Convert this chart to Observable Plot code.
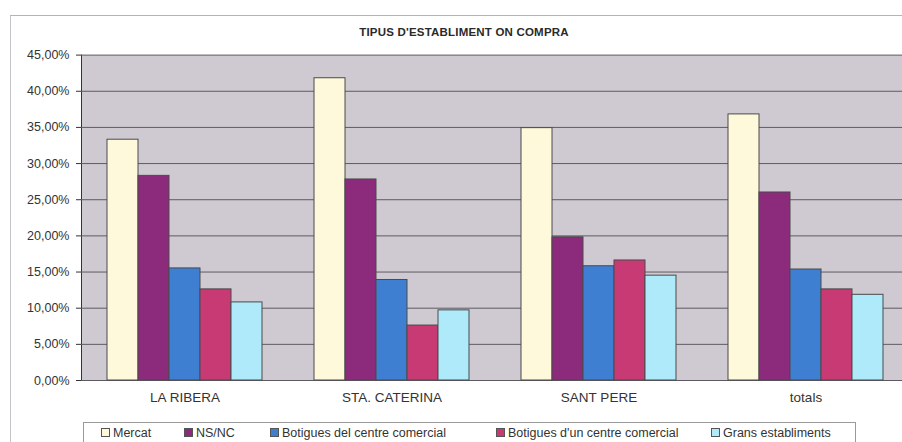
<!DOCTYPE html>
<html>
<head>
<meta charset="utf-8">
<script src="https://cdn.jsdelivr.net/npm/d3@7"></script>
<script src="https://cdn.jsdelivr.net/npm/@observablehq/plot@0.6"></script>
<style>
  html, body { margin: 0; padding: 0; background: #fff; overflow: hidden; }
  #wrap { position: relative; width: 902px; height: 442px; overflow: hidden; font-family: "Liberation Sans", Arial, sans-serif; }
  #border { position: absolute; left: 10px; top: 15px; width: 1000px; height: 600px; border-top: 1px solid #b4b4b8; border-left: 1px solid #c4c4c8; box-sizing: border-box; }
  #plotbg { position: absolute; left: 81px; top: 54.6px; width: 830px; height: 325.4px; background: #cfcad2; }
  #title { position: absolute; left: 0; width: 928px; top: 26px; text-align: center; font-size: 11.5px; font-weight: bold; color: #2a2a2a; letter-spacing: 0.2px; }
  #chart { position: absolute; left: 0; top: 0; }
  #legend { position: absolute; left: 83px; top: 422px; width: 773px; height: 40px; border: 1px solid #9a9a9a; box-sizing: border-box; background: #fff; }
  .item { position: absolute; top: 3px; font-size: 12.5px; color: #333; white-space: nowrap; line-height: 14px; }
  .sw { display: inline-block; width: 7px; height: 7px; border: 1px solid #555; margin-right: 3px; vertical-align: 0px; }
</style>
</head>
<body>
<div id="wrap">
  <div id="border"></div>
  <div id="plotbg"></div>
  <div id="chart"></div>
  <div id="title">TIPUS D'ESTABLIMENT ON COMPRA</div>
  <div id="legend"></div>
</div>
<script>
// ---- data ----
const categories = ["LA RIBERA", "STA. CATERINA", "SANT PERE", "totals"];
const series = ["Mercat", "NS/NC", "Botigues del centre comercial", "Botigues d'un centre comercial", "Grans establiments"];
const mercat      = [33.3, 41.8, 34.9, 36.8];
const nsnc        = [28.3, 27.8, 19.8, 26.0];
const botiguesDel = [15.5, 13.9, 15.8, 15.35];
const botiguesDun = [12.6, 7.6, 16.6, 12.6];
const grans       = [10.8, 9.7, 14.5, 11.85];
const yTicks = [0, 5, 10, 15, 20, 25, 30, 35, 40, 45];
const colors = ["#fff9dc", "#8c2a7c", "#3f7fd2", "#c83a74", "#aeeafa"];

const seriesValues = [mercat, nsnc, botiguesDel, botiguesDun, grans];
const rows = categories.flatMap((c, i) =>
  series.map((s, j) => ({category: c, series: s, value: seriesValues[j][i]}))
);

const fmt = d => d.toFixed(2).replace(".", ",") + "%";

const chart = Plot.plot({
  width: 902,
  height: 442,
  marginTop: 54.6,
  marginBottom: 62,
  marginLeft: 81,
  marginRight: 0,
  style: {background: "transparent", fontFamily: "'Liberation Sans', Arial, sans-serif", color: "#333", fontSize: "12.5px", overflow: "hidden"},
  facet: {data: rows, x: "category"},
  fx: {domain: categories, range: [81, 909], padding: 0, label: null, tickSize: 0, tickPadding: 12},
  x: {domain: series, axis: null, paddingInner: 0, paddingOuter: 0.77},
  y: {domain: [0, 45], ticks: yTicks, tickFormat: fmt, label: null, tickSize: 5, tickPadding: 7, line: true},
  color: {domain: series, range: colors},
  marks: [
    Plot.ruleY(yTicks, {stroke: "#5e5a62", strokeWidth: 1}),
    Plot.barY(rows, {x: "series", y: "value", fill: "series", stroke: "#4a4a4a", strokeWidth: 1})
  ]
});
document.getElementById("chart").appendChild(chart);

// fx axis font
chart.querySelectorAll("g[aria-label='fx-axis'] text, g[aria-label='fx-axis tick label'] text").forEach(t => t.setAttribute("font-size", "13.5px"));

// legend
const legendX = [100, 183, 269, 495, 710];
const legend = document.getElementById("legend");
series.forEach((s, i) => {
  const d = document.createElement("div");
  d.className = "item";
  d.style.left = (legendX[i] - 83) + "px";
  const sw = document.createElement("span");
  sw.className = "sw";
  sw.style.background = colors[i];
  d.appendChild(sw);
  d.appendChild(document.createTextNode(s));
  legend.appendChild(d);
});
</script>
</body>
</html>
